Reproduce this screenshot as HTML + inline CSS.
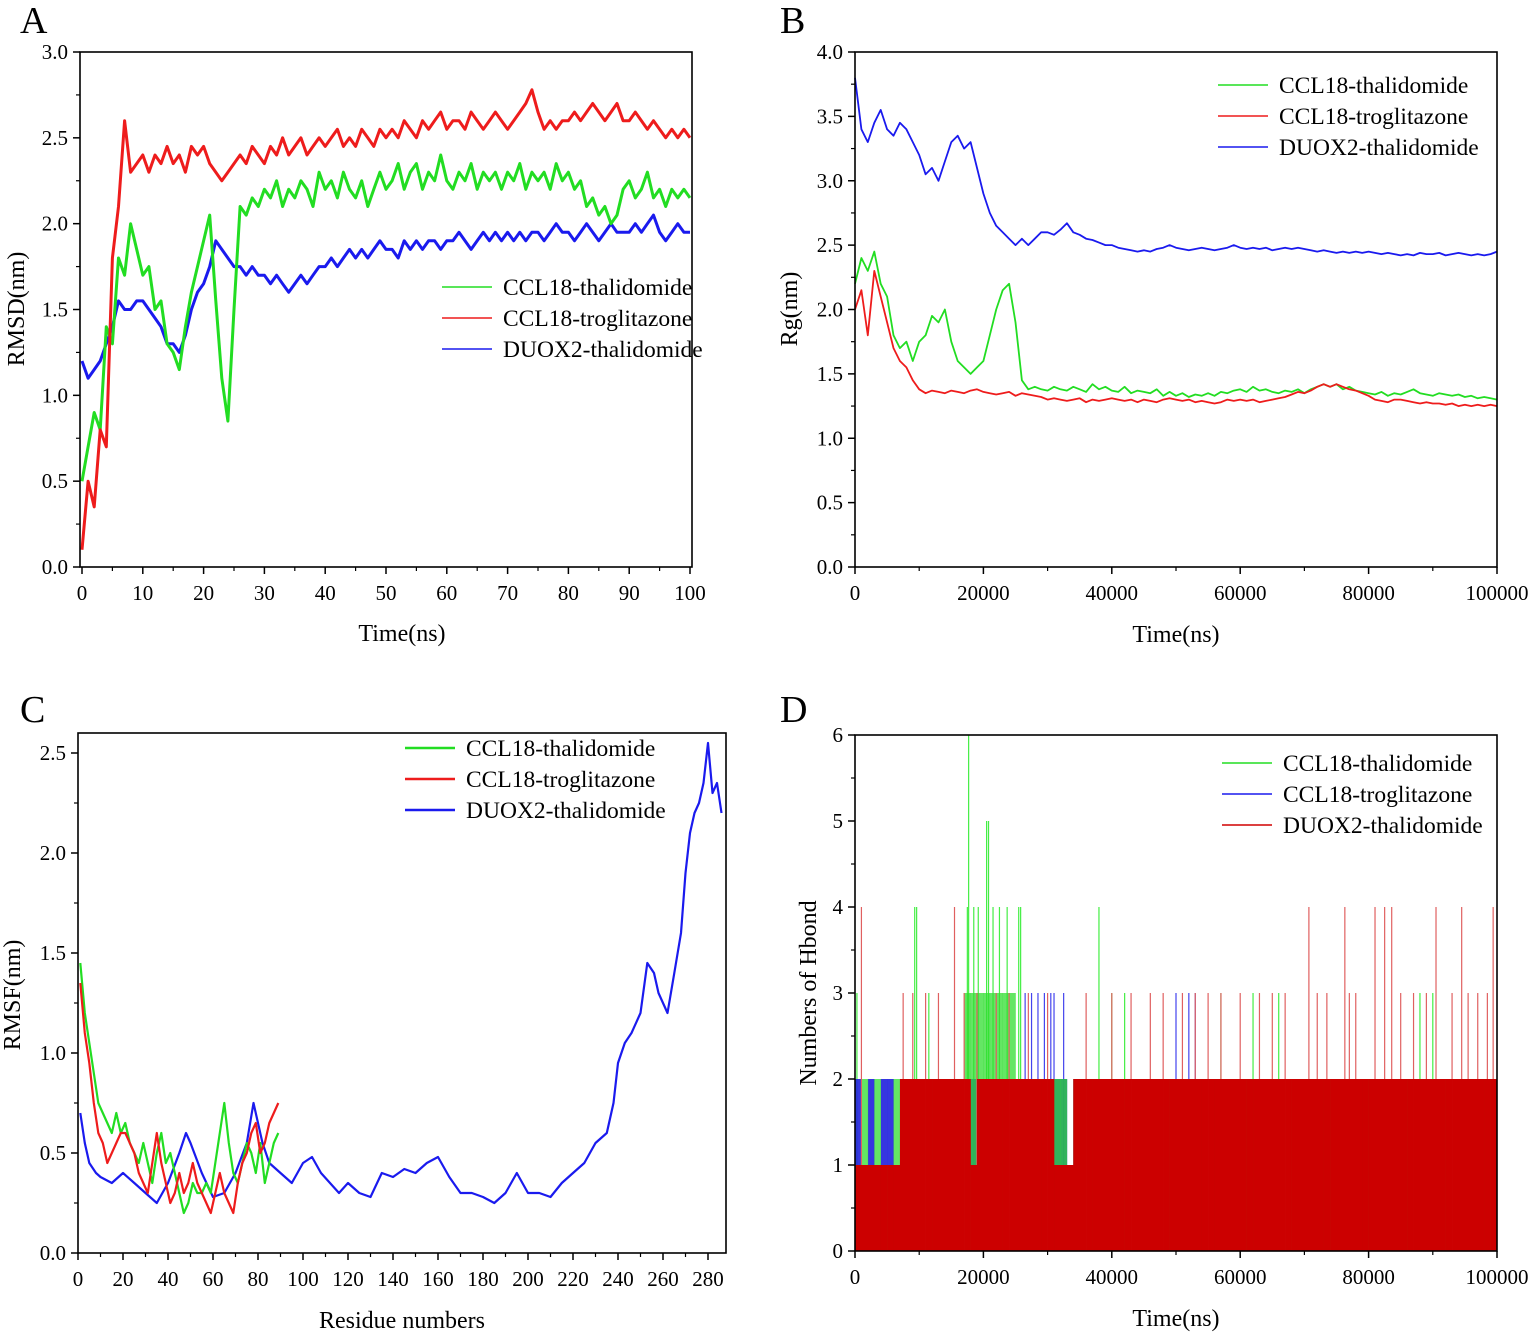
<!DOCTYPE html>
<html><head><meta charset="utf-8"><style>
body{margin:0;background:#fff}
svg{display:block;font-family:"Liberation Serif",serif}
</style></head><body>
<svg id="chart" width="1535" height="1335" viewBox="0 0 1535 1335" xmlns="http://www.w3.org/2000/svg"></svg>
<script>
// ---------- Panel A data (RMSD, 1 ns steps 0..100) ----------
const aGreen=[0.5,0.7,0.9,0.8,1.4,1.3,1.8,1.7,2.0,1.85,1.7,1.75,1.5,1.55,1.3,1.25,1.15,1.4,1.6,1.75,1.9,2.05,1.55,1.1,0.85,1.5,2.1,2.05,2.15,2.1,2.2,2.15,2.25,2.1,2.2,2.15,2.25,2.2,2.1,2.3,2.2,2.25,2.15,2.3,2.2,2.15,2.25,2.1,2.2,2.3,2.2,2.25,2.35,2.2,2.3,2.35,2.2,2.3,2.25,2.4,2.25,2.2,2.3,2.25,2.35,2.2,2.3,2.25,2.3,2.2,2.3,2.25,2.35,2.2,2.3,2.25,2.3,2.2,2.35,2.25,2.3,2.2,2.25,2.1,2.15,2.05,2.1,2.0,2.05,2.2,2.25,2.15,2.2,2.3,2.15,2.2,2.1,2.2,2.15,2.2,2.15];
const aRed=[0.1,0.5,0.35,0.8,0.7,1.8,2.1,2.6,2.3,2.35,2.4,2.3,2.4,2.35,2.45,2.35,2.4,2.3,2.45,2.4,2.45,2.35,2.3,2.25,2.3,2.35,2.4,2.35,2.45,2.4,2.35,2.45,2.4,2.5,2.4,2.45,2.5,2.4,2.45,2.5,2.45,2.5,2.55,2.45,2.5,2.45,2.55,2.5,2.45,2.55,2.5,2.55,2.5,2.6,2.55,2.5,2.6,2.55,2.6,2.65,2.55,2.6,2.6,2.55,2.65,2.6,2.55,2.6,2.65,2.6,2.55,2.6,2.65,2.7,2.78,2.65,2.55,2.6,2.55,2.6,2.6,2.65,2.6,2.65,2.7,2.65,2.6,2.65,2.7,2.6,2.6,2.65,2.6,2.55,2.6,2.55,2.5,2.55,2.5,2.55,2.5];
const aBlue=[1.2,1.1,1.15,1.2,1.3,1.4,1.55,1.5,1.5,1.55,1.55,1.5,1.45,1.4,1.3,1.3,1.25,1.35,1.5,1.6,1.65,1.75,1.9,1.85,1.8,1.75,1.75,1.7,1.75,1.7,1.7,1.65,1.7,1.65,1.6,1.65,1.7,1.65,1.7,1.75,1.75,1.8,1.75,1.8,1.85,1.8,1.85,1.8,1.85,1.9,1.85,1.85,1.8,1.9,1.85,1.9,1.85,1.9,1.9,1.85,1.9,1.9,1.95,1.9,1.85,1.9,1.95,1.9,1.95,1.9,1.95,1.9,1.95,1.9,1.95,1.95,1.9,1.95,2.0,1.95,1.95,1.9,1.95,2.0,1.95,1.9,1.95,2.0,1.95,1.95,1.95,2.0,1.95,2.0,2.05,1.95,1.9,1.95,2.0,1.95,1.95];
// ---------- Panel B data (Rg, step 1000 ns) ----------
const bGreen=[2.2,2.4,2.3,2.45,2.2,2.1,1.8,1.7,1.75,1.6,1.75,1.8,1.95,1.9,2.0,1.75,1.6,1.55,1.5,1.55,1.6,1.8,2.0,2.15,2.2,1.9,1.45,1.38,1.4,1.38,1.37,1.4,1.38,1.37,1.4,1.38,1.36,1.42,1.38,1.4,1.37,1.36,1.4,1.35,1.37,1.36,1.35,1.38,1.33,1.36,1.33,1.35,1.32,1.34,1.33,1.35,1.33,1.36,1.35,1.37,1.38,1.36,1.4,1.37,1.38,1.36,1.35,1.37,1.36,1.38,1.35,1.38,1.4,1.42,1.4,1.42,1.38,1.4,1.37,1.36,1.35,1.34,1.36,1.33,1.35,1.34,1.36,1.38,1.35,1.34,1.33,1.35,1.34,1.33,1.34,1.32,1.33,1.31,1.32,1.31,1.3];
const bRed=[2.0,2.15,1.8,2.3,2.1,1.9,1.7,1.6,1.55,1.45,1.38,1.35,1.37,1.36,1.35,1.37,1.36,1.35,1.37,1.38,1.36,1.35,1.34,1.35,1.36,1.33,1.35,1.34,1.33,1.32,1.3,1.31,1.3,1.29,1.3,1.31,1.28,1.3,1.29,1.3,1.31,1.3,1.29,1.3,1.28,1.3,1.29,1.28,1.3,1.31,1.3,1.29,1.3,1.28,1.29,1.28,1.27,1.28,1.3,1.29,1.3,1.29,1.3,1.28,1.29,1.3,1.31,1.32,1.34,1.36,1.35,1.37,1.4,1.42,1.4,1.42,1.4,1.38,1.37,1.35,1.33,1.3,1.29,1.28,1.3,1.3,1.29,1.28,1.27,1.28,1.27,1.27,1.26,1.27,1.25,1.26,1.25,1.26,1.25,1.26,1.25];
const bBlue=[3.8,3.4,3.3,3.45,3.55,3.4,3.35,3.45,3.4,3.3,3.2,3.05,3.1,3.0,3.15,3.3,3.35,3.25,3.3,3.1,2.9,2.75,2.65,2.6,2.55,2.5,2.55,2.5,2.55,2.6,2.6,2.58,2.62,2.67,2.6,2.58,2.55,2.54,2.52,2.5,2.5,2.48,2.47,2.46,2.45,2.46,2.45,2.47,2.48,2.5,2.48,2.47,2.46,2.47,2.48,2.47,2.46,2.47,2.48,2.5,2.48,2.47,2.48,2.47,2.48,2.46,2.47,2.48,2.47,2.48,2.47,2.46,2.45,2.46,2.45,2.44,2.45,2.44,2.45,2.44,2.45,2.44,2.43,2.44,2.43,2.42,2.43,2.42,2.44,2.43,2.43,2.44,2.42,2.43,2.44,2.43,2.42,2.43,2.42,2.43,2.45];
// ---------- Panel C data (RMSF) ----------
const cGreenX=[1,3,5,7,9,11,13,15,17,19,21,23,25,27,29,31,33,35,37,39,41,43,45,47,49,51,53,55,57,59,61,63,65,67,69,71,73,75,77,79,81,83,85,87,89];
const cGreenY=[1.45,1.2,1.05,0.9,0.75,0.7,0.65,0.6,0.7,0.6,0.65,0.55,0.5,0.45,0.55,0.45,0.35,0.5,0.6,0.45,0.5,0.4,0.3,0.2,0.25,0.35,0.3,0.3,0.35,0.3,0.45,0.6,0.75,0.55,0.4,0.35,0.45,0.55,0.5,0.4,0.55,0.35,0.45,0.55,0.6];
const cRedX=cGreenX;
const cRedY=[1.35,1.1,0.95,0.75,0.6,0.55,0.45,0.5,0.55,0.6,0.6,0.55,0.5,0.4,0.35,0.3,0.45,0.6,0.45,0.35,0.25,0.3,0.4,0.3,0.35,0.45,0.35,0.3,0.25,0.2,0.3,0.4,0.3,0.25,0.2,0.35,0.45,0.5,0.6,0.65,0.5,0.55,0.65,0.7,0.75];
const cBlueX=[1,3,5,8,10,15,20,25,30,35,40,45,48,50,55,60,65,70,75,78,82,85,90,95,100,104,108,112,116,120,125,130,135,140,145,150,155,160,165,170,175,180,185,190,195,200,205,210,215,220,225,230,235,238,240,243,246,250,253,256,258,262,265,268,270,272,274,276,278,280,282,284,286];
const cBlueY=[0.7,0.55,0.45,0.4,0.38,0.35,0.4,0.35,0.3,0.25,0.35,0.5,0.6,0.55,0.4,0.28,0.3,0.4,0.55,0.75,0.55,0.45,0.4,0.35,0.45,0.48,0.4,0.35,0.3,0.35,0.3,0.28,0.4,0.38,0.42,0.4,0.45,0.48,0.38,0.3,0.3,0.28,0.25,0.3,0.4,0.3,0.3,0.28,0.35,0.4,0.45,0.55,0.6,0.75,0.95,1.05,1.1,1.2,1.45,1.4,1.3,1.2,1.4,1.6,1.9,2.1,2.2,2.25,2.35,2.55,2.3,2.35,2.2];
// ---------- Panel D data (Hbond count per 1000 ns bin, and spikes) ----------
const dRedBins=[1,1,1,1,1,1,1,2,2,2,2,2,2,2,2,2,2,2,1,2,2,2,2,2,2,2,2,2,2,2,2,1,1,1,2,2,2,2,2,2,2,2,2,2,2,2,2,2,2,2,2,2,2,2,2,2,2,2,2,2,2,2,2,2,2,2,2,2,2,2,2,2,2,2,2,2,2,2,2,2,2,2,2,2,2,2,2,2,2,2,2,2,2,2,2,2,2,2,2,2];
const dBlueBins=[2,1,2,1,2,2,1,2,1,1,1,1,1,1,1,1,1,1,2,2,2,2,2,2,2,2,2,2,2,2,2,2,2,1,2,2,2,2,2,2,2,2,2,2,2,2,2,2,2,2,2,2,2,2,2,2,2,2,2,2,2,2,2,2,2,2,2,2,2,2,2,2,2,2,2,2,2,2,2,2,2,2,2,2,2,2,2,2,2,2,2,2,2,2,2,2,2,2,2,2];
const dGreenBins=[1,2,1,2,1,1,2,1,1,2,1,1,2,1,1,2,1,3,3,3,3,3,3,3,3,2,2,2,2,2,2,2,2,1,2,2,2,2,2,2,2,2,2,2,2,2,2,2,2,2,2,2,2,2,2,2,2,2,2,2,2,2,2,2,2,2,2,2,2,2,2,2,2,2,2,2,2,2,2,2,2,2,2,2,2,2,2,2,2,2,2,2,2,2,2,2,2,2,2,2];
const dRedSpikeT=[1000,7500,9000,11000,13000,15500,17000,19000,22000,24000,27000,30000,36000,40000,43000,46000,48000,51000,53000,55000,57000,60000,63000,65000,67000,70700,72000,73500,76300,77000,78000,81000,82500,83600,85000,87000,89000,90500,93000,94500,95500,97000,98500,99400];
const dRedSpikeV=[4,3,3,3,3,4,3,3,3,3,3,3,3,3,3,3,3,3,3,3,3,3,3,3,3,4,3,3,4,3,3,4,4,4,3,3,3,4,3,4,3,3,3,4];
const dGreenSpikeT=[300,9300,9600,11500,17500,17700,18500,19200,20500,20800,21500,22500,23700,25500,25800,38000,40000,42000,57000,62000,66000,88000,90000];
const dGreenSpikeV=[3,4,4,3,4,6,4,4,5,5,4,4,4,4,4,4,3,3,3,3,3,3,3];
const dBlueSpikeT=[26500,27500,28500,29500,30500,31000,32500,50000,52000,53000];
const dBlueSpikeV=[3,3,3,3,3,3,3,3,3,3];

const NS='http://www.w3.org/2000/svg';
const svg=document.getElementById('chart');
function el(tag,attrs,parent,txt){const e=document.createElementNS(NS,tag);for(const k in attrs)e.setAttribute(k,attrs[k]);if(txt!==undefined)e.textContent=txt;(parent||svg).appendChild(e);return e;}
function lin(d0,d1,r0,r1){return v=>r0+(v-d0)*(r1-r0)/(d1-d0);}

function axesPanel(p){
  const g=el('g',{});
  
  
  const X=lin(p.xd[0],p.xd[1],p.x0,p.x1), Y=lin(p.yd[0],p.yd[1],p.y0,p.y1);
  p.X=X;p.Y=Y;p.g=g;
  return p;
}
function frame(p){
  const g=p.g;
  const box=el('rect',{x:p.bl,y:p.bt,width:p.br-p.bl,height:p.bb-p.bt,fill:'none',stroke:'#000','stroke-width':1.6},g);
  
  
  p.xt.forEach((v,i)=>{const x=p.X(v);
    el('line',{x1:x,y1:p.bb,x2:x,y2:p.bb+7,stroke:'#000','stroke-width':1.5},g);
    const t=el('text',{x:x,y:p.bb+33,'font-size':21,'text-anchor':'middle'},g,p.xtl[i]);
    
    
    if(i<p.xt.length-1){const xm=p.X((v+p.xt[i+1])/2);el('line',{x1:xm,y1:p.bb,x2:xm,y2:p.bb+4,stroke:'#000','stroke-width':1.2},g);}
  });
  p.yt.forEach((v,i)=>{const y=p.Y(v);
    el('line',{x1:p.bl-7,y1:y,x2:p.bl,y2:y,stroke:'#000','stroke-width':1.5},g);
    const t=el('text',{x:p.bl-12,y:y+7,'font-size':21,'text-anchor':'end'},g,p.ytl[i]);
    
    
    if(i<p.yt.length-1){const ym=p.Y((v+p.yt[i+1])/2);el('line',{x1:p.bl-4,y1:ym,x2:p.bl,y2:ym,stroke:'#000','stroke-width':1.2},g);}
  });
  const xt=el('text',{x:p.xtx,y:p.xty,'font-size':24,'text-anchor':'middle'},g,p.xtitle);
  
  
  const yt=el('text',{x:p.ytx,y:p.yty,'font-size':24,'text-anchor':'middle',transform:`rotate(-90 ${p.ytx} ${p.yty})`},g,p.ytitle);
  
  
  const L=el('text',{x:p.lx,y:p.ly,'font-size':38},g,p.letter);
  
  
  p.legend.forEach((e,i)=>{
    const y=p.legy+i*31;
    const lg=el('g',{},g);
    
    
    el('line',{x1:p.legx,y1:y,x2:p.legx+50,y2:y,stroke:e[1],'stroke-width':p.legw},lg);
    el('text',{x:p.legx+61,y:y+8,'font-size':23.5},lg,e[0]);
  });
}
function line(p,xs,ys,color,w,name){
  const d=ys.map((v,i)=>(i?'L':'M')+p.X(xs[i]).toFixed(1)+' '+p.Y(v).toFixed(1)).join('');
  const path=el('path',{d:d,fill:'none',stroke:color,'stroke-width':w,'stroke-linejoin':'round'},p.g);
  
  
}
const G='#22dd22',R='#ee1c1c',B='#1a1aee';

// Panel A
const A=axesPanel({name:'panel-a-rmsd',xd:[0,100],x0:82,x1:690,yd:[0,3],y0:567,y1:52,bl:80,br:692,bt:52,bb:567,
  xt:[0,10,20,30,40,50,60,70,80,90,100],xtl:['0','10','20','30','40','50','60','70','80','90','100'],
  yt:[0,0.5,1,1.5,2,2.5,3],ytl:['0.0','0.5','1.0','1.5','2.0','2.5','3.0'],
  xtitle:'Time(ns)',xtx:402,xty:641,ytitle:'RMSD(nm)',ytx:24,yty:309,letter:'A',lx:20,ly:33,
  legend:[['CCL18-thalidomide',G],['CCL18-troglitazone',R],['DUOX2-thalidomide',B]],legx:442,legy:287,legw:1.5});
const idxA=aRed.map((_,i)=>i);
line(A,idxA,aBlue,B,3,'series-duox2-thalidomide');
line(A,idxA,aGreen,G,3,'series-ccl18-thalidomide');
line(A,idxA,aRed,R,3,'series-ccl18-troglitazone');
frame(A);

// Panel B
const Bp=axesPanel({name:'panel-b-rg',xd:[0,100000],x0:855,x1:1497,yd:[0,4],y0:567,y1:52,bl:855,br:1497,bt:52,bb:567,
  xt:[0,20000,40000,60000,80000,100000],xtl:['0','20000','40000','60000','80000','100000'],
  yt:[0,0.5,1,1.5,2,2.5,3,3.5,4],ytl:['0.0','0.5','1.0','1.5','2.0','2.5','3.0','3.5','4.0'],
  xtitle:'Time(ns)',xtx:1176,xty:642,ytitle:'Rg(nm)',ytx:797,yty:309,letter:'B',lx:780,ly:33,
  legend:[['CCL18-thalidomide',G],['CCL18-troglitazone',R],['DUOX2-thalidomide',B]],legx:1218,legy:85,legw:1.5});
const tB=bBlue.map((_,i)=>i*1000);
line(Bp,tB,bBlue,B,1.8,'series-duox2-thalidomide');
line(Bp,tB,bGreen,G,1.8,'series-ccl18-thalidomide');
line(Bp,tB,bRed,R,1.8,'series-ccl18-troglitazone');
frame(Bp);

// Panel C
const C=axesPanel({name:'panel-c-rmsf',xd:[0,280],x0:78,x1:708,yd:[0,2.5],y0:1253,y1:753,bl:78,br:726,bt:733,bb:1253,
  xt:[0,20,40,60,80,100,120,140,160,180,200,220,240,260,280],xtl:['0','20','40','60','80','100','120','140','160','180','200','220','240','260','280'],
  yt:[0,0.5,1,1.5,2,2.5],ytl:['0.0','0.5','1.0','1.5','2.0','2.5'],
  xtitle:'Residue numbers',xtx:402,xty:1328,ytitle:'RMSF(nm)',ytx:20,yty:995,letter:'C',lx:20,ly:722,
  legend:[['CCL18-thalidomide',G],['CCL18-troglitazone',R],['DUOX2-thalidomide',B]],legx:405,legy:748,legw:2.5});
line(C,cBlueX,cBlueY,B,2.2,'series-duox2-thalidomide');
line(C,cGreenX,cGreenY,G,2.2,'series-ccl18-thalidomide');
line(C,cRedX,cRedY,R,2.2,'series-ccl18-troglitazone');
frame(C);

// Panel D
const D=axesPanel({name:'panel-d-hbond',xd:[0,100000],x0:855,x1:1497,yd:[0,6],y0:1251,y1:735,bl:855,br:1497,bt:735,bb:1251,
  xt:[0,20000,40000,60000,80000,100000],xtl:['0','20000','40000','60000','80000','100000'],
  yt:[0,1,2,3,4,5,6],ytl:['0','1','2','3','4','5','6'],
  xtitle:'Time(ns)',xtx:1176,xty:1326,ytitle:'Numbers of Hbond',ytx:816,yty:993,letter:'D',lx:780,ly:722,
  legend:[['CCL18-thalidomide',G],['CCL18-troglitazone',B],['DUOX2-thalidomide','#d00000']],legx:1222,legy:763,legw:1.5});
function bins(arr,color,name,op){
  const g=el('g',{},D.g);
  
  
  arr.forEach((v,i)=>{const x0=D.X(i*1000),x1=D.X((i+1)*1000);
    el('rect',{x:x0,y:D.Y(v),width:x1-x0+0.3,height:D.Y(0)-D.Y(v),fill:color,'fill-opacity':op||1},g);});
}
function spikes(ts,vs,color,name){
  const g=el('g',{},D.g);
  
  
  ts.forEach((t,i)=>{const x=D.X(t);el('line',{x1:x,y1:D.Y(0),x2:x,y2:D.Y(vs[i]),stroke:color,'stroke-width':1.2},g);});
}
spikes(dGreenSpikeT,dGreenSpikeV,'#44ee44','green-hbond-spikes');
spikes(dBlueSpikeT,dBlueSpikeV,'#4444ee','blue-hbond-spikes');
bins(dBlueBins,'#2020dd','blue-hbond-bins',0.9);
bins(dGreenBins,'#30dd30','green-hbond-bins',0.75);
spikes(dRedSpikeT,dRedSpikeV,'#e06060','red-hbond-spikes');
bins(dRedBins,'#cc0000','red-hbond-bins');
frame(D);
</script>
</body></html>
